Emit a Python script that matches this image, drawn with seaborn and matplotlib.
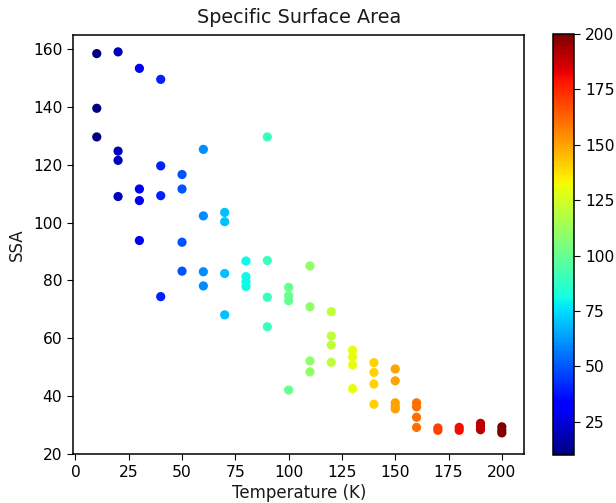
import matplotlib
matplotlib.use("Agg")
import matplotlib.pyplot as plt
import matplotlib.colors as mcolors
import matplotlib.cm as cm
import pandas as pd
import seaborn as sns

# Measured specific surface area at each temperature
temperature = [
    10, 10, 10,
    20, 20, 20, 20,
    30, 30, 30, 30,
    40, 40, 40, 40,
    50, 50, 50, 50,
    60, 60, 60, 60,
    70, 70, 70, 70,
    80, 80, 80, 80,
    90, 90, 90, 90,
    100, 100, 100, 100,
    110, 110, 110, 110,
    120, 120, 120, 120,
    130, 130, 130, 130,
    140, 140, 140, 140,
    150, 150, 150, 150, 150,
    160, 160, 160, 160,
    170, 170,
    180, 180,
    190, 190, 190,
    200, 200, 200,
]
ssa = [
    158.4, 139.5, 129.6,
    159.0, 124.7, 121.5, 109.0,
    153.3, 111.6, 107.6, 93.8,
    149.5, 119.6, 109.3, 74.4,
    116.6, 111.6, 93.2, 83.2,
    125.3, 102.3, 83.0, 78.1,
    103.5, 100.3, 82.4, 68.1,
    86.7, 81.3, 79.5, 77.9,
    129.6, 86.9, 74.2, 64.0,
    77.6, 74.7, 73.0, 42.1,
    85.0, 70.9, 52.2, 48.4,
    69.2, 60.8, 57.7, 51.7,
    55.9, 53.6, 50.8, 42.6,
    51.6, 48.2, 44.2, 37.2,
    49.4, 45.3, 37.7, 36.5, 35.6,
    37.7, 36.3, 32.7, 29.2,
    29.0, 28.2,
    29.2, 28.2,
    30.6, 29.5, 28.4,
    29.4, 28.2, 27.3,
]
colorbar_ticks = [25, 50, 75, 100, 125, 150, 175, 200]

df = pd.DataFrame({"Temperature (K)": temperature, "SSA": ssa})

sns.set_style("ticks")
plt.rcParams.update({
    "font.family": ["DejaVu Sans"],
    "font.size": 11.5,
    "axes.edgecolor": "black",
    "axes.linewidth": 1.1,
    "xtick.color": "black",
    "ytick.color": "black",
    "xtick.labelsize": 11.2,
    "ytick.labelsize": 11.2,
    "xtick.major.size": 4,
    "ytick.major.size": 4,
    "xtick.major.pad": 4,
    "ytick.major.pad": 4,
    "text.color": "#1a1a1a",
    "axes.labelcolor": "#1a1a1a",
})

fig = plt.figure(figsize=(6.16, 5.03), dpi=100)
ax = fig.add_axes([0.119, 0.0974, 0.732, 0.834])
cax = fig.add_axes([0.898, 0.0954, 0.034, 0.837])

jet = matplotlib.colormaps["jet"]
norm = mcolors.Normalize(vmin=10, vmax=200)
sns.scatterplot(
    data=df, x="Temperature (K)", y="SSA", hue="Temperature (K)",
    palette=jet, hue_norm=norm, s=44, linewidth=0, legend=False, ax=ax,
)
for side in ["top", "right"]:
    ax.spines[side].set_visible(True)

ax.set_xlim(-1, 210.5)
ax.set_ylim(20, 165)
ax.set_xticks([0, 25, 50, 75, 100, 125, 150, 175, 200])
ax.set_yticks([20, 40, 60, 80, 100, 120, 140, 160])
ax.set_title("Specific Surface Area", fontsize=13.8, pad=8.5)
ax.set_xlabel("Temperature (K)", fontsize=12, labelpad=3)
ax.set_ylabel("SSA", fontsize=12, labelpad=5)

sm = cm.ScalarMappable(norm=norm, cmap=jet)
cb = fig.colorbar(sm, cax=cax, ticks=colorbar_ticks)
cb.outline.set_linewidth(1.1)

fig.savefig("out.png", dpi=100)
